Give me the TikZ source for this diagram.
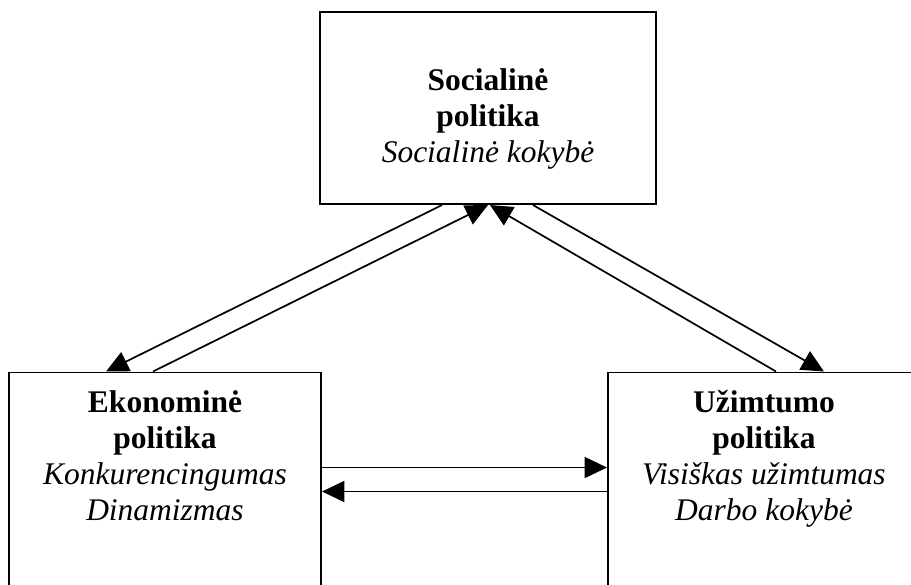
\documentclass[tikz,border=0pt]{standalone}
\usepackage{fontspec}
\setmainfont{Liberation Serif}
\usetikzlibrary{arrows.meta,calc}

\tikzset{
  box/.style={draw, line width=0.75pt, inner sep=0pt},
  txt/.style={align=center, inner sep=0pt, anchor=north, font=\fontsize{12}{13.7}\selectfont},
  link/.style={line width=0.65pt, -{Triangle[length=8.5pt,width=8pt]}}
}

\begin{document}
\begin{tikzpicture}[x=0.381pt, y=-0.381pt]
  \useasboundingbox (0,0) rectangle (911,584);
  \clip (0,0) rectangle (911,584);

  % boxes
  \node[box, minimum width=128pt, minimum height=73.2pt] (soc) at (488,108) {};
  \node[box, minimum width=118.9pt, minimum height=114.3pt] (eko) at (165,522.5) {};
  \node[box, minimum width=118.9pt, minimum height=114.3pt] (uzi) at (764,522.5) {};

  % texts
  \node[txt] (soctxt) at (488,68) {\textbf{Socialinė}\\ \textbf{politika}\\ \textit{Socialinė kokybė}};
  \node[txt] (ekotxt) at (165,390) {\textbf{Ekonominė}\\ \textbf{politika}\\ \textit{Konkurencingumas}\\ \textit{Dinamizmas}};
  \node[txt] (uzitxt) at (764,390) {\textbf{Užimtumo}\\ \textbf{politika}\\ \textit{Visiškas užimtumas}\\ \textit{Darbo kokybė}};

  % arrows
  \draw[link] ($(soc.south)+(-46,0)$) -- ($(eko.north)+(-59,0)$);
  \draw[link] ($(eko.north)+(-12,0)$) -- ($(soc.south)+(0,0)$);
  \draw[link] ($(uzi.north)+(12,0)$) -- ($(soc.south)+(2,0)$);
  \draw[link] ($(soc.south)+(45,0)$) -- ($(uzi.north)+(60,0)$);
  \draw[link] ($(eko.north east)+(0,96)$) -- ($(uzi.north west)+(0,96)$);
  \draw[link] ($(uzi.north west)+(0,120)$) -- ($(eko.north east)+(0,120)$);
\end{tikzpicture}
\end{document}
